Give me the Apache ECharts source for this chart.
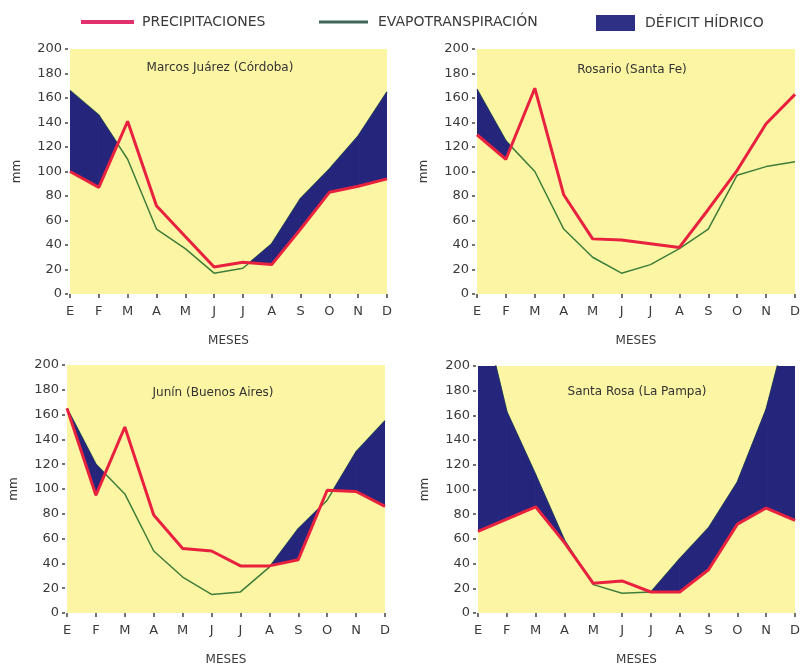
<!DOCTYPE html>
<html><head><meta charset="utf-8">
<script src="https://cdn.jsdelivr.net/npm/echarts@6/dist/echarts.min.js"></script>
<style>html,body{margin:0;padding:0;background:#fff}#c{width:803px;height:667px}</style>
</head><body><div id="c"></div>
<script>
// ---- data ----
const months = ['E','F','M','A','M','J','J','A','S','O','N','D'];
const stations = ['Marcos Juárez (Córdoba)','Rosario (Santa Fe)','Junín (Buenos Aires)','Santa Rosa (La Pampa)'];
const yMin = 0, yMax = 200, yStep = 20;

const precipMarcosJuarez = [100, 87, 141, 72, 47, 22, 26, 24, 53, 83, 88, 94];
const evapMarcosJuarez   = [166, 146, 110, 53, 37, 17, 21, 41, 78, 102, 129, 165];

const precipRosario = [130, 110, 168, 81, 45, 44, 41, 38, 69, 101, 139, 163];
const evapRosario   = [167, 125, 100, 53, 30, 17, 24, 37, 53, 97, 104, 108];

const precipJunin = [165, 95, 150, 79, 52, 50, 38, 38, 43, 99, 98, 86];
const evapJunin   = [165, 120, 96, 50, 29, 15, 17, 37, 68, 91, 130, 155];

const precipSantaRosa = [66, 76, 86, 57, 24, 26, 17, 17, 35, 72, 85, 75];
const evapSantaRosa   = [260, 163, 112, 59, 23, 16, 17, 44, 69, 106, 165, 255];

const precipSeries = [precipMarcosJuarez, precipRosario, precipJunin, precipSantaRosa];
const evapSeries = [evapMarcosJuarez, evapRosario, evapJunin, evapSantaRosa];

// ---- style ----
const FONT = 'DejaVu Sans';
const RED = '#e8213f', GREEN = '#3f7d3a', BLUE = '#25257c', YELLOW = '#fbf5a4', TXT = '#3a3a3a';
const grids = [
  {left: 70, top: 49, width: 317, height: 245},
  {left: 477, top: 49, width: 320, height: 245},
  {left: 67, top: 365, width: 318, height: 251},
  {left: 478, top: 366, width: 320, height: 251}
];
const titlePos = [[220, 68], [632, 70], [213, 393], [637, 392]];

function lerp(a, b, t) { return [a[0] + (b[0] - a[0]) * t, a[1] + (b[1] - a[1]) * t]; }

function deficitSeries(k) {
  const P = precipSeries[k], ET = evapSeries[k];
  return {
    type: 'custom', name: 'DÉFICIT HÍDRICO', xAxisIndex: k, yAxisIndex: k,
    clip: true, z: 3, itemStyle: {color: BLUE},
    data: P.slice(0, -1).map((v, i) => [i, P[i], ET[i], P[i + 1], ET[i + 1]]),
    encode: {x: 0, y: [1, 2, 3, 4]},
    renderItem: function (params, api) {
      const i = api.value(0);
      const pv0 = api.value(1), ev0 = api.value(2), pv1 = api.value(3), ev1 = api.value(4);
      const p0 = api.coord([i, pv0]), e0 = api.coord([i, ev0]);
      const p1 = api.coord([i + 1, pv1]), e1 = api.coord([i + 1, ev1]);
      const d0 = ev0 - pv0, d1 = ev1 - pv1;
      let pts = null;
      if (d0 >= 0 && d1 >= 0) {
        if (d0 === 0 && d1 === 0) return;
        pts = [e0, e1, p1, p0];
      } else if (d0 > 0 && d1 < 0) {
        pts = [e0, lerp(p0, p1, d0 / (d0 - d1)), p0];
      } else if (d0 < 0 && d1 > 0) {
        pts = [lerp(p0, p1, d0 / (d0 - d1)), e1, p1];
      } else return;
      return {type: 'polygon', shape: {points: pts}, style: {fill: BLUE, stroke: BLUE, lineWidth: 0.8}};
    }
  };
}

const option = {
  animation: false,
  grid: grids.map(g => Object.assign({show: true, backgroundColor: YELLOW, borderWidth: 0}, g)),
  xAxis: grids.map((g, k) => ({
    type: 'category', gridIndex: k, data: months, boundaryGap: false, offset: 5,
    axisLine: {show: false},
    axisTick: {show: true, length: 4, lineStyle: {color: '#444', width: 1.5}},
    axisLabel: {margin: 6, color: TXT, fontSize: 13, fontFamily: FONT},
    splitLine: {show: false},
    name: 'MESES', nameLocation: 'middle', nameGap: 36,
    nameTextStyle: {color: TXT, fontSize: 12, fontFamily: FONT}
  })),
  yAxis: grids.map((g, k) => ({
    type: 'value', gridIndex: k, min: yMin, max: yMax, interval: yStep, offset: 2,
    axisLine: {show: false},
    axisTick: {show: true, length: 3, lineStyle: {color: '#444', width: 1.5}},
    axisLabel: {margin: 6, color: TXT, fontSize: 13, fontFamily: FONT},
    splitLine: {show: false},
    name: 'mm', nameLocation: 'middle', nameGap: 45, nameRotate: 90,
    nameTextStyle: {color: TXT, fontSize: 12, fontFamily: FONT}
  })),
  legend: [
    {left: 81, top: 15, padding: 0, selectedMode: false, icon: 'rect', itemWidth: 53, itemHeight: 4,
     data: [{name: 'PRECIPITACIONES', itemStyle: {color: '#e2306a'}}],
     textStyle: {fontSize: 14, fontFamily: FONT, color: TXT, padding: [0, 0, 0, 3]}},
    {left: 319, top: 15, padding: 0, selectedMode: false, icon: 'rect', itemWidth: 49, itemHeight: 3,
     data: [{name: 'EVAPOTRANSPIRACIÓN', itemStyle: {color: '#3f6657'}}],
     textStyle: {fontSize: 14, fontFamily: FONT, color: TXT, padding: [0, 0, 0, 5]}},
    {left: 596, top: 15, padding: 0, selectedMode: false, icon: 'rect', itemWidth: 39, itemHeight: 16,
     data: [{name: 'DÉFICIT HÍDRICO', itemStyle: {color: '#2e3085'}}],
     textStyle: {fontSize: 14, fontFamily: FONT, color: TXT, padding: [0, 0, 0, 5]}}
  ],
  graphic: stations.map((s, k) => ({
    type: 'text', x: titlePos[k][0], y: titlePos[k][1], z: 10,
    style: {text: s, align: 'center', verticalAlign: 'middle', textAlign: 'center', textVerticalAlign: 'middle',
            fill: '#333', fontSize: 12, fontFamily: FONT}
  })),
  series: []
};

for (let k = 0; k < 4; k++) {
  option.series.push({
    type: 'line', name: 'EVAPOTRANSPIRACIÓN', xAxisIndex: k, yAxisIndex: k, data: evapSeries[k],
    symbol: 'none', showSymbol: false, z: 2, clip: true,
    lineStyle: {color: GREEN, width: 1.5}, itemStyle: {color: GREEN}
  });
  option.series.push(deficitSeries(k));
  option.series.push({
    type: 'line', name: 'PRECIPITACIONES', xAxisIndex: k, yAxisIndex: k, data: precipSeries[k],
    symbol: 'none', showSymbol: false, z: 4, clip: true,
    lineStyle: {color: RED, width: 3}, itemStyle: {color: RED}
  });
}

const chart = echarts.init(document.getElementById('c'), null, {renderer: 'canvas'});
chart.setOption(option);
</script>
</body></html>
